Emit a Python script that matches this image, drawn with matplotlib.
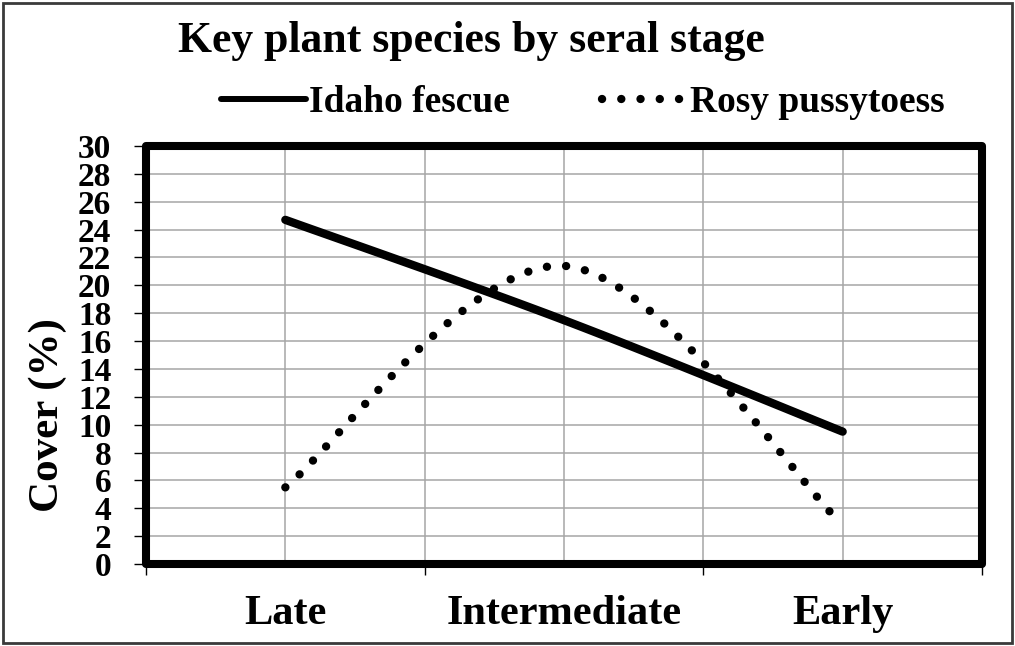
import numpy as np
import matplotlib
matplotlib.use("Agg")
import matplotlib.pyplot as plt
from matplotlib.lines import Line2D
from matplotlib.patches import Rectangle

# ---- data ----
categories = ["Late", "Intermediate", "Early"]
idaho_fescue = [24.7, 17.5, 9.5]
rosy_pussytoes = [5.5, 21.4, 2.8]
series_names = ["Idaho fescue", "Rosy pussytoess"]
y_ticks = list(range(0, 31, 2))
title = "Key plant species by seral stage"
y_label = "Cover (%)"

FONT = "Liberation Serif"


def excel_smooth(xs, ys, n=60):
    """Excel-style smoothed line: cubic Bezier with Catmull-Rom (1/6) control points."""
    xs = np.asarray(xs, float)
    ys = np.asarray(ys, float)
    P = np.column_stack([xs, ys])
    out = []
    for i in range(len(P) - 1):
        p0 = P[i]
        p3 = P[i + 1]
        prev = P[i - 1] if i > 0 else P[i]
        nxt = P[i + 2] if i + 2 < len(P) else P[i + 1]
        c1 = p0 + (p3 - prev) / 6.0
        c2 = p3 - (nxt - p0) / 6.0
        t = np.linspace(0, 1, n)[:, None]
        seg = ((1 - t) ** 3) * p0 + 3 * ((1 - t) ** 2) * t * c1 + 3 * (1 - t) * t ** 2 * c2 + t ** 3 * p3
        if i > 0:
            seg = seg[1:]
        out.append(seg)
    out = np.vstack(out)
    return out[:, 0], out[:, 1]


W, H = 1015, 646
fig = plt.figure(figsize=(W / 100, H / 100), dpi=100)
fig.patch.set_facecolor("white")

left, right, top, bottom = 146, 982, 146, 564
ax = fig.add_axes([left / W, 1 - bottom / H, (right - left) / W, (bottom - top) / H])

x = np.arange(len(categories)) + 0.5
ax.set_xlim(0, len(categories))
ax.set_ylim(0, 30)

# grid
for gx in np.arange(0.5, len(categories), 0.5):
    ax.axvline(gx, color="#a6a6a6", lw=1.1, zorder=1)
for gy in y_ticks[1:-1]:
    ax.axhline(gy, color="#a6a6a6", lw=1.1, zorder=1)

sx, sy = excel_smooth(x, idaho_fescue)
ax.plot(sx, sy, color="black", lw=6.0, solid_capstyle="round", zorder=3)
rx, ry = excel_smooth(x, rosy_pussytoes)
ax.plot(rx, ry, color="black", lw=6.0, linestyle=(0, (0.01, 2.3)),
        dash_capstyle="round", zorder=3)

# spines / frame
for s in ax.spines.values():
    s.set_visible(False)
frame = Rectangle((0, 0), 1, 1, transform=ax.transAxes, fill=False,
                  edgecolor="black", lw=5.8, joinstyle="round", zorder=5,
                  clip_on=False)
ax.add_patch(frame)

ax.set_yticks(y_ticks)
ax.set_yticklabels([str(v) for v in y_ticks], fontfamily=FONT, fontweight="bold", fontsize=24)
ax.tick_params(axis="y", direction="out", length=9, width=1.0, pad=16, color="black")

ax.set_xticks(range(len(categories) + 1))
ax.set_xticklabels([""] * (len(categories) + 1))
ax.set_xticks(x, minor=True)
ax.set_xticklabels(categories, minor=True, fontfamily=FONT, fontweight="bold", fontsize=30.5)
ax.tick_params(axis="x", which="major", direction="out", length=8, width=1.0, color="black")
ax.tick_params(axis="x", which="minor", length=0, pad=22)

ax.set_ylabel(y_label, fontfamily=FONT, fontweight="bold", fontsize=31)
ax.yaxis.set_label_coords((67 - left) / (right - left), (bottom - 415) / (bottom - top))

fig.text(471 / W, 1 - 52 / H, title, ha="center", va="baseline",
         fontfamily=FONT, fontweight="bold", fontsize=31.5)

handles = [
    Line2D([], [], color="black", lw=4.3, solid_capstyle="round"),
    Line2D([], [], color="black", lw=6.0, linestyle=(0, (0.01, 2.3)), dash_capstyle="round"),
]
fig.legend(handles, series_names, loc="center left", bbox_to_anchor=(221 / W, 1 - 103 / H),
           ncol=2, frameon=False, handlelength=2.27, handletextpad=0.08, columnspacing=2.45,
           borderpad=0, borderaxespad=0,
           prop={"family": FONT, "weight": "bold", "size": 27})

# outer border of the image
fig.patches.append(Rectangle((3 / W, 3 / H), (W - 6) / W, (H - 6) / H,
                             transform=fig.transFigure, fill=False,
                             edgecolor="#3a3a3a", lw=2.0))

fig.savefig("out.png", dpi=100)
